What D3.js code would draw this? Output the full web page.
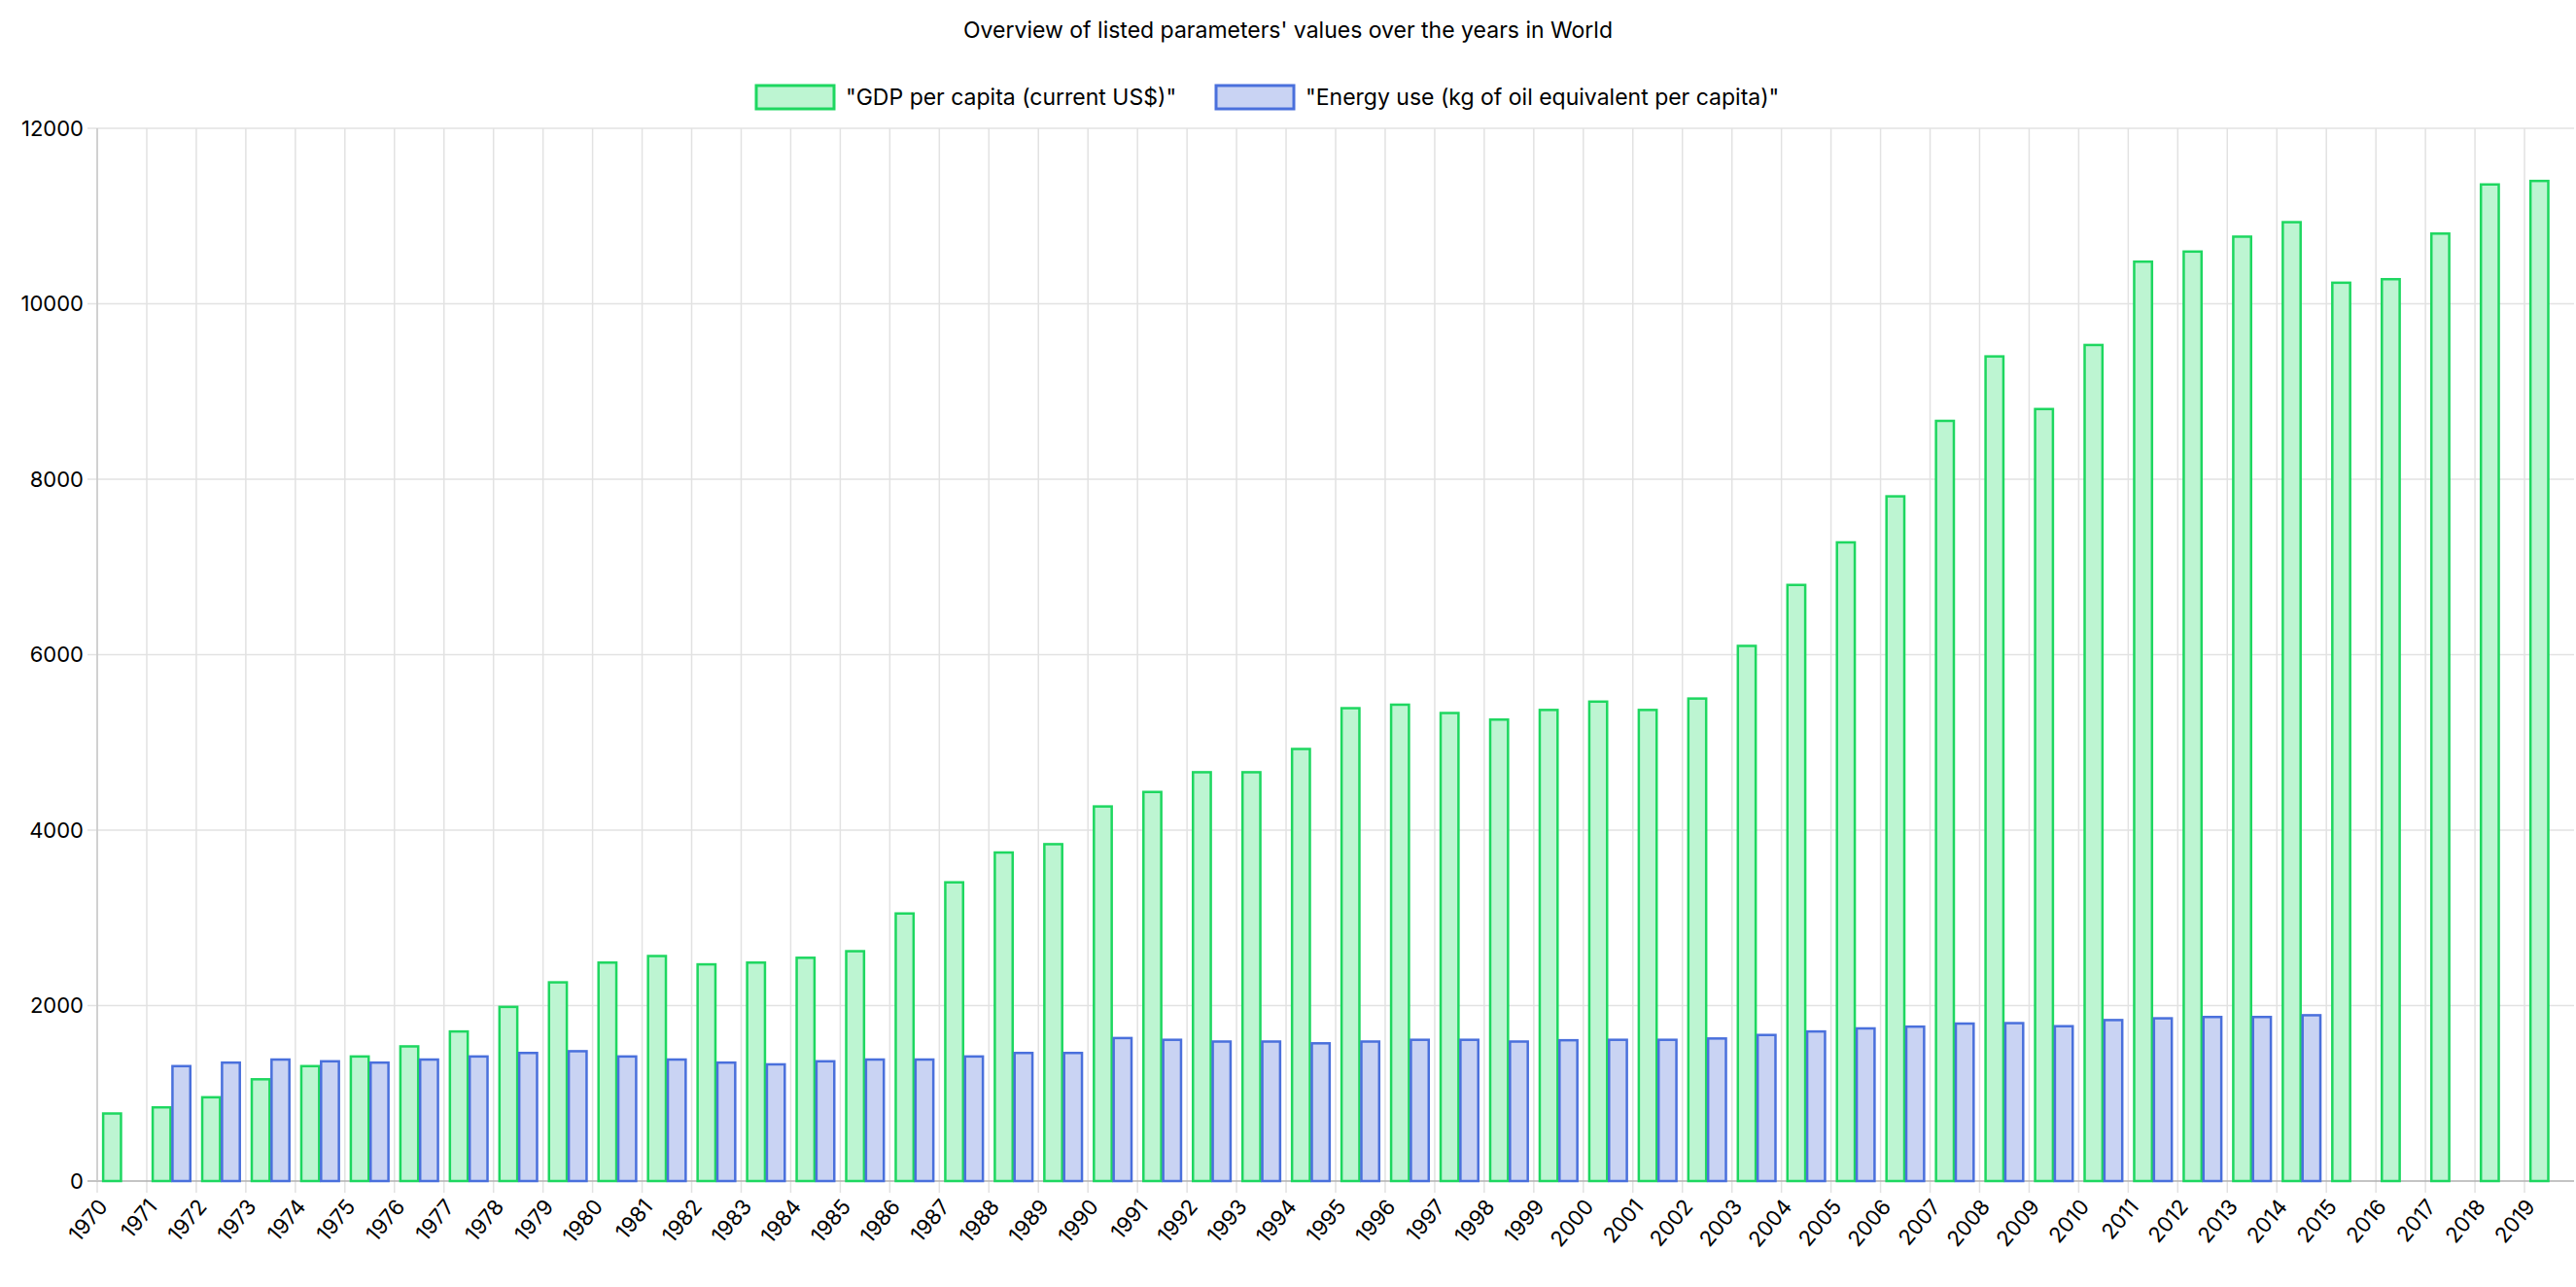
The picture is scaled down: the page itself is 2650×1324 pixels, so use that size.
<!DOCTYPE html>
<html>
<head>
<meta charset="utf-8">
<script src="https://cdn.jsdelivr.net/npm/d3@7"></script>
<style>
  body { margin: 0; background: #fff; }
  text { font-family: Inter, "Open Sans", sans-serif; fill: #000; }
</style>
</head>
<body>
<div id="chart"></div>
<script>
var years = d3.range(1970, 2020).map(String);
var seriesNames = ['"GDP per capita (current US$)"', '"Energy use (kg of oil equivalent per capita)"'];
var gdp = [770, 840, 955, 1160, 1310, 1420, 1535, 1705, 1985, 2265,
  2490, 2565, 2470, 2490, 2545, 2620, 3050, 3405, 3745, 3840,
  4270, 4435, 4660, 4660, 4925, 5390, 5430, 5335, 5260, 5370,
  5465, 5370, 5500, 6100, 6795, 7280, 7805, 8665, 9400, 8800,
  9530, 10480, 10595, 10765, 10930, 10240, 10280, 10800, 11360, 11400];
var energy = [null, 1310, 1350, 1385, 1365, 1350, 1385, 1420, 1460, 1480,
  1420, 1385, 1350, 1330, 1365, 1385, 1385, 1420, 1460, 1460,
  1630, 1610, 1590, 1590, 1570, 1590, 1610, 1610, 1590, 1605,
  1610, 1610, 1625, 1665, 1705, 1740, 1760, 1795, 1800, 1765,
  1835, 1855, 1870, 1870, 1890, null, null, null, null, null];
var yTicks = [0, 2000, 4000, 6000, 8000, 10000, 12000];

var W = 2650, H = 1324;
var margin = {left: 100, right: 2, top: 132, bottom: 109};
var width = W - margin.left - margin.right;
var height = H - margin.top - margin.bottom;

var svg = d3.select("#chart").append("svg").attr("width", W).attr("height", H);

svg.append("text").attr("x", W / 2).attr("y", 39).attr("text-anchor", "middle")
  .style("font-size", "23px").text("Overview of listed parameters' values over the years in World");

var x = d3.scaleBand().domain(years).range([0, width]);
var y = d3.scaleLinear().domain([0, 12000]).range([height, 0]);
var bw = x.bandwidth();

var chart = svg.append("g").attr("transform", "translate(" + margin.left + "," + margin.top + ")");

// grid
chart.selectAll("line.vg").data(years).enter().append("line")
  .attr("x1", function(d) { return x(d); }).attr("x2", function(d) { return x(d); })
  .attr("y1", 0).attr("y2", height + 12).attr("stroke", "#e2e2e2").attr("stroke-width", 1.5);
chart.selectAll("line.hg").data(yTicks).enter().append("line")
  .attr("x1", -10).attr("x2", width)
  .attr("y1", function(d) { return y(d); }).attr("y2", function(d) { return y(d); })
  .attr("stroke", function(d) { return d === 0 ? "#b0b0b0" : "#e2e2e2"; }).attr("stroke-width", 1.5);
chart.append("line").attr("x1", 0).attr("x2", 0).attr("y1", 0).attr("y2", height)
  .attr("stroke", "#c8c8c8").attr("stroke-width", 1.5);

// y labels
chart.selectAll("text.yl").data(yTicks).enter().append("text")
  .attr("x", -14).attr("y", function(d) { return y(d); }).attr("dy", "0.35em")
  .attr("text-anchor", "end").style("font-size", "22px").text(function(d) { return d; });

// x labels
chart.selectAll("text.xl").data(years).enter().append("text")
  .attr("transform", function(d) { return "translate(" + (x(d) + 6) + "," + (height + 22) + ") rotate(-50)"; })
  .attr("text-anchor", "end").attr("dy", "0.35em").style("font-size", "22px").text(function(d) { return d; });

var barW = bw * 0.36, off = bw * 0.12;
var series = [
  {vals: gdp, fill: "#bdf5d2", stroke: "#1ed760", dx: off},
  {vals: energy, fill: "#c9d3f3", stroke: "#4a70dc", dx: off + barW + 2}
];
series.forEach(function(s) {
  chart.append("g").selectAll("rect")
    .data(years.map(function(yr, i) { return {yr: yr, v: s.vals[i]}; }).filter(function(d) { return d.v != null; }))
    .enter().append("rect")
    .attr("x", function(d) { return x(d.yr) + s.dx; })
    .attr("y", function(d) { return y(d.v); })
    .attr("width", barW)
    .attr("height", function(d) { return height - y(d.v); })
    .attr("fill", s.fill).attr("stroke", s.stroke).attr("stroke-width", 2.5);
});

// legend
var legX = [778, 1251];
seriesNames.forEach(function(n, i) {
  svg.append("rect").attr("x", legX[i]).attr("y", 88).attr("width", 80).attr("height", 24)
    .attr("fill", series[i].fill).attr("stroke", series[i].stroke).attr("stroke-width", 3);
  svg.append("text").attr("x", legX[i] + 92).attr("y", 100).attr("dy", "0.35em")
    .style("font-size", "23px").text(n);
});
</script>
</body>
</html>
